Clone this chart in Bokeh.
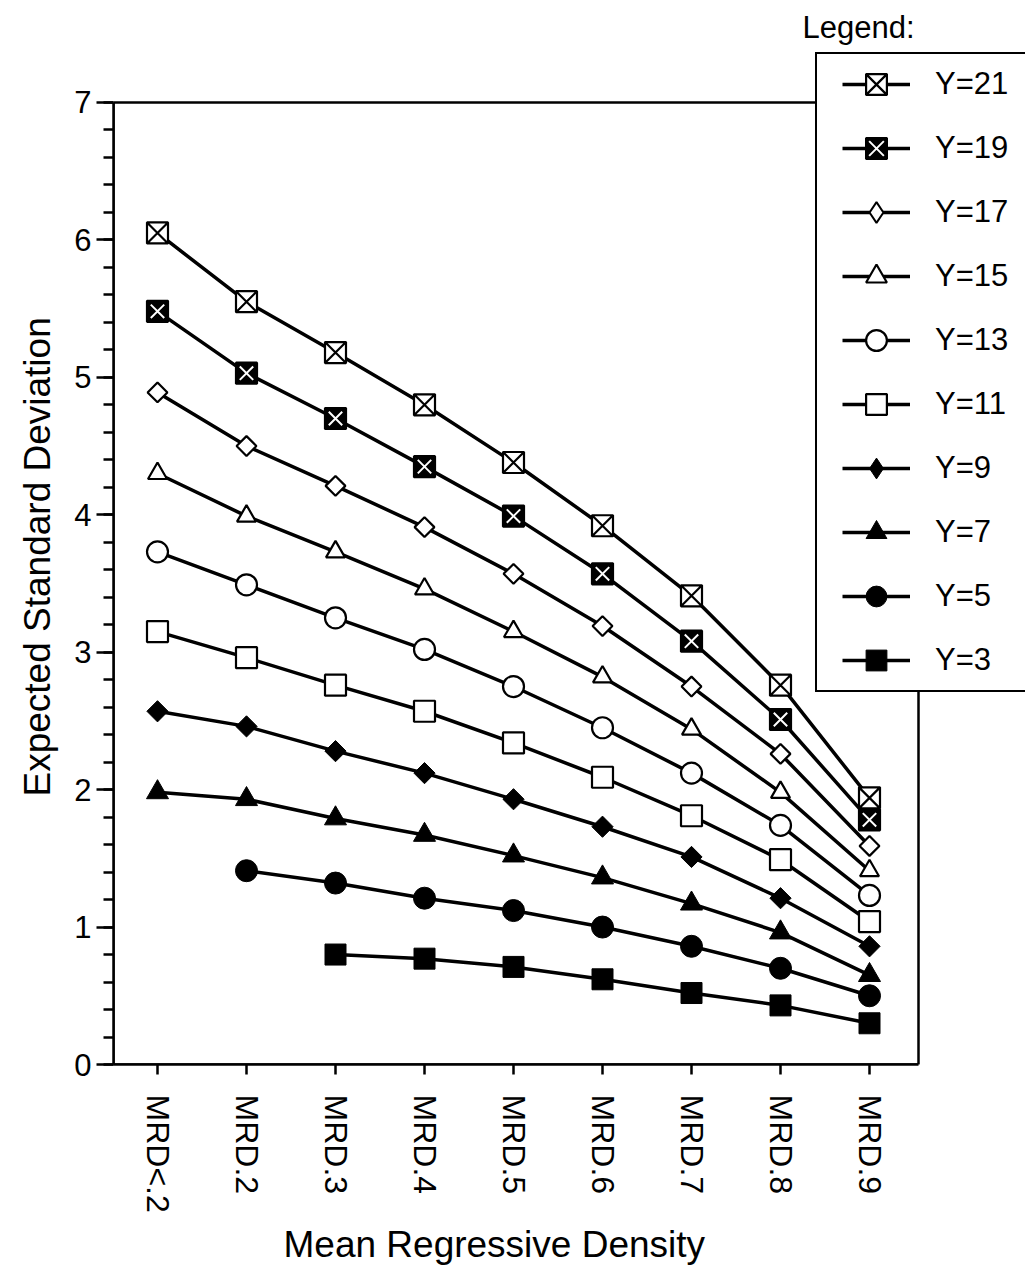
import math
from bokeh.plotting import figure
from bokeh.models import (Range1d, FixedTicker, SingleIntervalTicker, Legend, LegendItem,
                          Label, BoxAnnotation, Title)
from bokeh.embed import file_html
from bokeh.resources import INLINE

nan = float("nan")

categories = ["MRD<.2", "MRD.2", "MRD.3", "MRD.4", "MRD.5", "MRD.6", "MRD.7", "MRD.8", "MRD.9"]
y_ticks = [0, 1, 2, 3, 4, 5, 6, 7]

y21 = [6.05, 5.55, 5.18, 4.80, 4.38, 3.92, 3.41, 2.76, 1.94]
y19 = [5.48, 5.03, 4.70, 4.35, 3.99, 3.57, 3.08, 2.51, 1.78]
y17 = [4.89, 4.50, 4.21, 3.91, 3.57, 3.19, 2.75, 2.26, 1.59]
y15 = [4.30, 3.99, 3.73, 3.46, 3.15, 2.82, 2.44, 1.98, 1.41]
y13 = [3.73, 3.49, 3.25, 3.02, 2.75, 2.45, 2.12, 1.74, 1.23]
y11 = [3.15, 2.96, 2.76, 2.57, 2.34, 2.09, 1.81, 1.49, 1.04]
y9 = [2.57, 2.46, 2.28, 2.12, 1.93, 1.73, 1.51, 1.21, 0.86]
y7 = [1.98, 1.93, 1.79, 1.67, 1.52, 1.36, 1.17, 0.96, 0.65]
y5 = [nan, 1.41, 1.32, 1.21, 1.12, 1.00, 0.86, 0.70, 0.50]
y3 = [nan, nan, 0.80, 0.77, 0.71, 0.62, 0.52, 0.43, 0.30]

series_labels = ["Y=21", "Y=19", "Y=17", "Y=15", "Y=13", "Y=11", "Y=9", "Y=7", "Y=5", "Y=3"]
x_title = "Mean Regressive Density"
y_title = "Expected Standard Deviation"

FONT = "Liberation Sans"
xi = list(range(len(categories)))

# geometry (pixels); the frame is enlarged so that the legend, which sits partly
# outside the axes box, is not clipped
W, H = 1025, 1270
LEFT, BOTTOM = 113, 205
AX_W, AX_H = 805, 963          # size of the visible axes box
X_PX = 89.0                    # pixels per category
x_lo = -44.0 / X_PX            # the first category sits 44 px right of the axis
x_hi = x_lo + AX_W / X_PX
y_lo, y_hi = y_ticks[0], y_ticks[-1]
Y_PX = AX_H / (y_hi - y_lo)
frame_w, frame_h = W - LEFT, H - BOTTOM

p = figure(width=W, height=H,
           x_range=Range1d(x_lo, x_lo + frame_w / X_PX),
           y_range=Range1d(y_lo, y_lo + frame_h / Y_PX),
           output_backend="svg", toolbar_location=None,
           min_border_left=LEFT, min_border_right=0,
           min_border_top=0, min_border_bottom=BOTTOM)
p.xgrid.visible = False
p.ygrid.visible = False
p.outline_line_color = None
p.background_fill_color = "white"
p.border_fill_color = "white"

xa = p.xaxis[0]
xa.bounds = (x_lo, x_hi)
xa.ticker = FixedTicker(ticks=xi)
xa.major_label_overrides = {i: c for i, c in enumerate(categories)}
xa.major_label_orientation = "vertical"
xa.major_tick_out = 10
xa.major_tick_in = 0
xa.minor_tick_out = 0
xa.minor_tick_in = 0
xa.axis_line_width = 2.5
xa.major_tick_line_width = 2.5
xa.major_label_text_font = FONT
xa.major_label_text_font_size = "32px"
xa.major_label_text_color = "black"
xa.major_label_standoff = 20

ya = p.yaxis[0]
ya.bounds = (y_lo, y_hi)
ya.ticker = SingleIntervalTicker(interval=1, num_minor_ticks=5)
ya.major_tick_out = 17
ya.major_tick_in = 0
ya.minor_tick_out = 10
ya.minor_tick_in = 0
ya.axis_line_width = 2.5
ya.major_tick_line_width = 2.5
ya.minor_tick_line_width = 2.5
ya.major_label_text_font = FONT
ya.major_label_text_font_size = "31px"
ya.major_label_text_color = "black"
ya.major_label_standoff = 5

# axis titles (placed as side-panel titles so they can be aligned like the original)
p.add_layout(Title(text=x_title, align="left", offset=170, standoff=12,
                   text_font=FONT, text_font_size="37px", text_font_style="normal",
                   text_color="black"), "below")
p.add_layout(Title(text=y_title, align="left", offset=268, standoff=27,
                   text_font=FONT, text_font_size="37px", text_font_style="normal",
                   text_color="black"), "left")

# the axes box outline
p.add_layout(BoxAnnotation(left=x_lo, right=x_hi, bottom=y_lo, top=y_hi,
                           fill_alpha=0, line_color="black", line_alpha=1.0, line_width=2.5))

all_series = [y21, y19, y17, y15, y13, y11, y9, y7, y5, y3]
lines = [p.line(xi, s, line_color="black", line_width=3.5) for s in all_series]

D = math.pi / 4
r21 = p.scatter(xi, y21, marker="square_x", size=21, fill_color="white", line_color="black", line_width=2.2)
r19a = p.scatter(xi, y19, marker="square", size=21, fill_color="black", line_color="black", line_width=2.2)
r19b = p.scatter(xi, y19, marker="x", size=19, line_color="white", line_width=2)
r17 = p.scatter(xi, y17, marker="square", angle=D, size=14, fill_color="white", line_color="black", line_width=2.2)
r17L = p.scatter(xi, y17, marker="diamond", size=22, fill_color="white", line_color="black", line_width=2, visible=False)
r15 = p.scatter(xi, y15, marker="triangle", size=19, fill_color="white", line_color="black", line_width=2.2)
r13 = p.scatter(xi, y13, marker="circle", size=21, fill_color="white", line_color="black", line_width=2.2)
r11 = p.scatter(xi, y11, marker="square", size=21, fill_color="white", line_color="black", line_width=2.2)
r9 = p.scatter(xi, y9, marker="square", angle=D, size=15, fill_color="black", line_color="black", line_width=1)
r9L = p.scatter(xi, y9, marker="diamond", size=22, fill_color="black", line_color="black", line_width=1, visible=False)
r7 = p.scatter(xi, y7, marker="triangle", size=22, fill_color="black", line_color="black", line_width=1)
r5 = p.scatter(xi, y5, marker="circle", size=22, fill_color="black", line_color="black", line_width=1)
r3 = p.scatter(xi, y3, marker="square", size=21, fill_color="black", line_color="black", line_width=1)

legend_glyphs = [[r21], [r19a, r19b], [r17L], [r15], [r13], [r11], [r9L], [r7], [r5], [r3]]

# legend frame (box); location = bottom-left corner, in px from the axes' bottom-left
dummy = p.line(xi, y3, line_alpha=0)
box = Legend(items=[LegendItem(label=" ", renderers=[dummy])],
             location=(702, 372), padding=0, margin=0, spacing=0,
             glyph_width=260, glyph_height=636, label_height=636,
             border_line_color="black", border_line_alpha=1.0, border_line_width=2.5,
             background_fill_color="white", background_fill_alpha=1.0,
             label_text_font_size="10px")
p.add_layout(box)

items = [LegendItem(label=lab, renderers=[ln] + g) for lab, ln, g in zip(series_labels, lines, legend_glyphs)]
leg = Legend(items=items, location=(729, 378), padding=0, margin=0, spacing=12,
             glyph_width=68, glyph_height=52, label_height=52, label_standoff=25,
             border_line_alpha=0, background_fill_alpha=0,
             label_text_font=FONT, label_text_font_size="31px", label_text_color="black")
p.add_layout(leg)

title = Label(x=689, y=1037, x_units="screen", y_units="screen", text="Legend:",
              text_font=FONT, text_font_size="31px", text_color="black", text_baseline="alphabetic")
p.add_layout(title)

open("out.html", "w").write(file_html(p, INLINE))
